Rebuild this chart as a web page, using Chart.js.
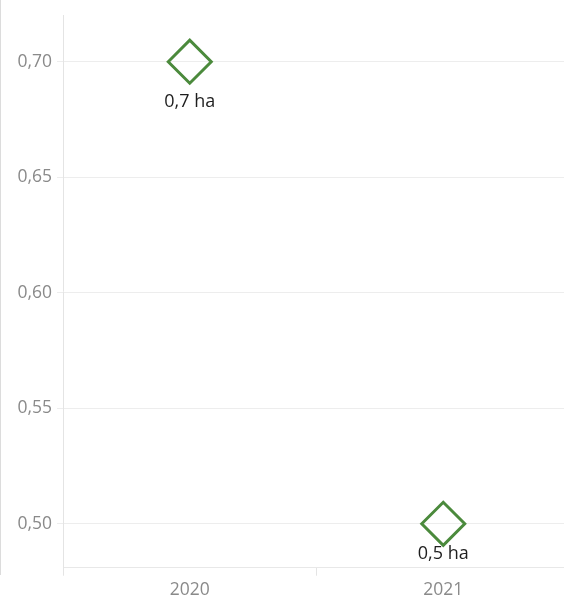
<!DOCTYPE html>
<html>
<head>
<meta charset="utf-8">
<script src="https://cdn.jsdelivr.net/npm/chart.js@4.4.1/dist/chart.umd.min.js"></script>
<style>
  html, body { margin: 0; padding: 0; background: #fff; overflow: hidden; width: 564px; height: 597px; }
  #c { position: absolute; left: 0; top: 0; }
  #edge { position: absolute; left: 0; top: 0; width: 1px; height: 575px; background: #dcdcdc; }
</style>
</head>
<body>
<canvas id="c" width="570" height="597"></canvas>
<div id="edge"></div>
<script>
const years = ['2020', '2021'];
const areaHa = [0.7, 0.5];
const valueLabels = ['0,7 ha', '0,5 ha'];
const yTicks = [0.50, 0.55, 0.60, 0.65, 0.70];
const yMin = 0.481;
const yMax = 0.72;

const FONT = '"Open Sans", "DejaVu Sans", sans-serif';

const labelPlugin = {
  id: 'pointLabels',
  afterDatasetsDraw(chart) {
    const ctx = chart.ctx;
    const meta = chart.getDatasetMeta(0);
    const area = chart.chartArea;
    ctx.save();
    ctx.font = '18px ' + FONT;
    ctx.fillStyle = '#1e1e1e';
    ctx.textAlign = 'center';
    ctx.textBaseline = 'middle';
    meta.data.forEach((pt, i) => {
      const y = Math.min(pt.y + 40, area.bottom - 13.5);
      ctx.fillText(valueLabels[i], pt.x, y);
    });
    ctx.restore();
  }
};

new Chart(document.getElementById('c'), {
  type: 'line',
  data: {
    labels: years,
    datasets: [{
      data: areaHa,
      showLine: false,
      pointStyle: 'rectRot',
      pointRadius: 21.5,
      pointHoverRadius: 21.5,
      pointBorderWidth: 3,
      pointHoverBorderWidth: 3,
      pointBorderColor: '#4b8a3c',
      pointBackgroundColor: 'rgba(255,255,255,0)',
      clip: false
    }]
  },
  options: {
    responsive: false,
    animation: false,
    events: [],
    layout: { autoPadding: false, padding: { top: 15.5, left: 0, right: 0, bottom: 0 } },
    plugins: { legend: { display: false }, tooltip: { enabled: false } },
    scales: {
      x: {
        offset: true,
        grid: {
          offset: true,
          drawOnChartArea: false,
          drawTicks: true,
          tickLength: 8,
          color: '#e4e4e4'
        },
        border: { display: true, color: '#e8e8e8' },
        ticks: {
          color: '#8a8a8a',
          font: { family: FONT, size: 17.5 },
          padding: 4
        },
        afterFit(scale) { scale.height = 29.3; }
      },
      y: {
        min: yMin,
        max: yMax,
        afterBuildTicks(scale) { scale.ticks = yTicks.map(v => ({ value: v })); },
        grid: {
          color: '#ededed',
          tickLength: 6,
          drawTicks: true
        },
        border: { display: true, color: '#e4e4e4' },
        ticks: {
          color: '#8a8a8a',
          font: { family: FONT, size: 17.5 },
          padding: 5,
          callback: v => v.toFixed(2).replace('.', ',')
        },
        afterFit(scale) { scale.width = 63; }
      }
    }
  },
  plugins: [labelPlugin]
});
</script>
</body>
</html>
